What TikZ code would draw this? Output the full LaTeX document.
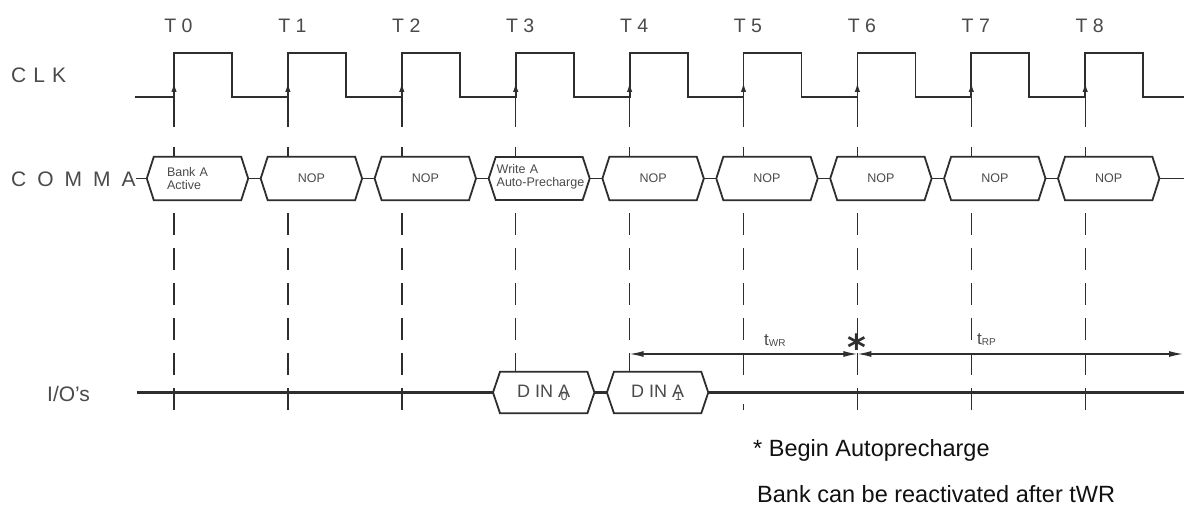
\documentclass[tikz,border=0pt]{standalone}
\usepackage{fontspec}
\setmainfont{Liberation Sans}
\newfontfamily\djv{DejaVu Sans}
\usetikzlibrary{arrows.meta,calc}
\definecolor{linec}{HTML}{2E2E2E}
\definecolor{txtc}{HTML}{4A4A4A}
\definecolor{fnc}{HTML}{111111}
\newcommand{\ovsub}[2]{\ooalign{#1\cr\hidewidth\raisebox{-3pt}{\fontsize{12}{12}\selectfont #2}\hidewidth\cr}}
\tikzset{
  wave/.style={draw=linec, line width=1.8pt, line join=miter},
  ioline/.style={draw=linec, line width=2.4pt},
  hexa/.style={minimum width=101pt, minimum height=43pt, inner sep=0pt, font=\fontsize{12.5}{13}\selectfont, text=txtc},
  dinbox/.style={hexa, minimum height=41pt, font=\fontsize{18}{18}\selectfont},
  tick/.style={draw=linec, line width=1.4pt},
  gridline/.style={draw=linec, line width=1.4pt, dash pattern=on 22pt off 13pt},
  edgearrow/.style={draw=linec, line width=1.4pt, -{Latex[length=9pt,width=5.5pt]}},
  dimarrow/.style={draw=linec, line width=1.3pt, {Latex[length=14pt,width=6pt]}-{Latex[length=14pt,width=6pt]}},
  lbl/.style={text=txtc, inner sep=0pt},
}
\begin{document}
\begin{tikzpicture}[x=1pt,y=-1pt]
\fill[white] (0,0) rectangle (1184,508);
\useasboundingbox (0,0) rectangle (1184,508);

% clock edge coordinates
\foreach \i in {0,...,8} {
  \coordinate (t\i) at ({174+113.9*\i},0);
}

% labels T0..T8
\foreach \i in {0,...,8} {
  \node[lbl, anchor=base, font=\fontsize{19.5}{19.5}\selectfont] (tl\i) at ($(t\i)+(4.5,33)$) {T \i};
}

% signal labels
\node[lbl, anchor=base west, font=\fontsize{21}{21}\selectfont] (clklbl) at (11,83) {C\kern7pt L\kern7pt K};
\node[lbl, anchor=base west, font=\fontsize{21}{21}\selectfont] (cmdlbl) at (11,186.7) {C\kern11pt O\kern11pt M\kern11pt M\kern11pt A};
\node[lbl, anchor=base west, font=\fontsize{21}{21}\selectfont] (iolbl) at (47,401) {I/O's};

% clock waveform
\draw[wave] (135,97)
  \foreach \i in {0,...,8} { -- ({174+113.9*\i},97) -- ({174+113.9*\i},53) -- ({232+113.9*\i},53) -- ({232+113.9*\i},97) }
  -- (1184,97);

% command boxes
\node[hexa, text width=61pt, inner xsep=20pt, align=left] (c0) at ($(t0)+(23.5,178.5)$) {Bank A\\Active};
\node[hexa] (c1) at ($(t1)+(23.5,178.5)$) {NOP};
\node[hexa] (c2) at ($(t2)+(23.5,178.5)$) {NOP};
\node[hexa, text width=93pt, inner xsep=8pt, align=left] (c3) at ($(t3)+(27.5,176.5)$) {Write A\\Auto-Precharge};
\node[hexa] (c4) at ($(t4)+(23.5,178.5)$) {NOP};
\node[hexa] (c5) at ($(t5)+(23.5,178.5)$) {NOP};
\node[hexa] (c6) at ($(t6)+(23.5,178.5)$) {NOP};
\node[hexa] (c7) at ($(t7)+(23.5,178.5)$) {NOP};
\node[hexa] (c8) at ($(t8)+(23.5,178.5)$) {NOP};

% data boxes
\node[dinbox] (d0) at ($(t3)+(28,392.5)$) {D IN \ovsub{A}{0}};
\node[dinbox] (d1) at ($(t4)+(28,392.5)$) {D IN \ovsub{A}{1}};

\foreach \n in {c0,c1,c2,c4,c5,c6,c7,c8,d0,d1} {
  \draw[wave] (\n.west) -- ([xshift=7pt]\n.north west) -- ([xshift=-7pt]\n.north east)
    -- (\n.east) -- ([xshift=-7pt]\n.south east) -- ([xshift=7pt]\n.south west) -- cycle;
}
% box c3 drawn at the common row height
\coordinate (c3w) at ($(t3)+(-27,178.5)$);
\coordinate (c3e) at ($(t3)+(74,178.5)$);
\draw[wave] (c3w) -- ++(7,-21.5) -- ($(c3e)+(-7,-21.5)$) -- (c3e) -- ++(-7,21.5) -- ($(c3w)+(7,21.5)$) -- cycle;

% command bus links
\coordinate (cend) at (1184,178.5);
\draw[wave] (cmdlbl.east |- c0.west) -- (c0.west);
\draw[wave] (c0.east) -- (c1.west);
\draw[wave] (c1.east) -- (c2.west);
\draw[wave] (c2.east) -- (c3w);
\draw[wave] (c3e) -- (c4.west);
\foreach \i [evaluate=\i as \j using int(\i+1)] in {4,...,7} {
  \draw[wave] (c\i.east) -- (c\j.west);
}
\draw[wave] (c8.east) -- (cend);

% I/O line
\coordinate (iostart) at (137,392.5);
\coordinate (ioend) at (1184,392.5);
\draw[ioline] (iostart) -- (d0.west);
\draw[ioline] (d0.east) -- (d1.west);
\draw[ioline] (d1.east) -- (ioend);

% vertical guides
\foreach \i in {0,...,8} {
  \draw[edgearrow] ($(t\i)+(0,127)$) -- ($(t\i)+(0,83)$);
  \draw[tick] ($(t\i)+(0,147)$) -- ($(t\i)+(0,157)$);
}
\foreach \i in {0,1,2,6,7,8} {
  \draw[gridline] ($(t\i)+(0,213)$) -- ($(t\i)+(0,410)$);
}
\draw[gridline] ($(t3)+(0,213)$) -- (t3 |- d0.north);
\draw[gridline] ($(t4)+(0,213)$) -- (t4 |- d1.north);
\draw[gridline] ($(t5)+(0,213)$) -- ($(t5)+(0,375)$);
\draw[tick] ($(t5)+(0,404)$) -- ($(t5)+(0,410)$);

% timing arrows
\coordinate (a4) at ($(t4)+(0,354)$);
\coordinate (a6) at ($(t6)+(0,354)$);
\coordinate (aend) at (1183,354);
\draw[dimarrow] (a4) -- (a6);
\draw[dimarrow] (a6) -- (aend);
\node[lbl, anchor=base west, font=\fontsize{17}{17}\selectfont] (twr) at (764,345) {t\raisebox{-1.5pt}{\fontsize{10}{10}\selectfont WR}};
\node[lbl, anchor=base west, font=\fontsize{17}{17}\selectfont] (trp) at (977,344) {t\raisebox{-1.5pt}{\fontsize{10}{10}\selectfont RP}};
\node[inner sep=0pt, anchor=base, text=linec, font=\djv\bfseries\fontsize{36}{36}\selectfont] (star) at ($(t6)+(0,360)$) {*};

% notes
\node[inner sep=0pt, anchor=base west, text=fnc, font=\fontsize{23.5}{23.5}\selectfont] (note1) at (753,456) {* Begin Autoprecharge};
\node[inner sep=0pt, anchor=base west, text=fnc, font=\fontsize{23.5}{23.5}\selectfont] (note2) at (757,502) {Bank can be reactivated after tWR};
\end{tikzpicture}
\end{document}
